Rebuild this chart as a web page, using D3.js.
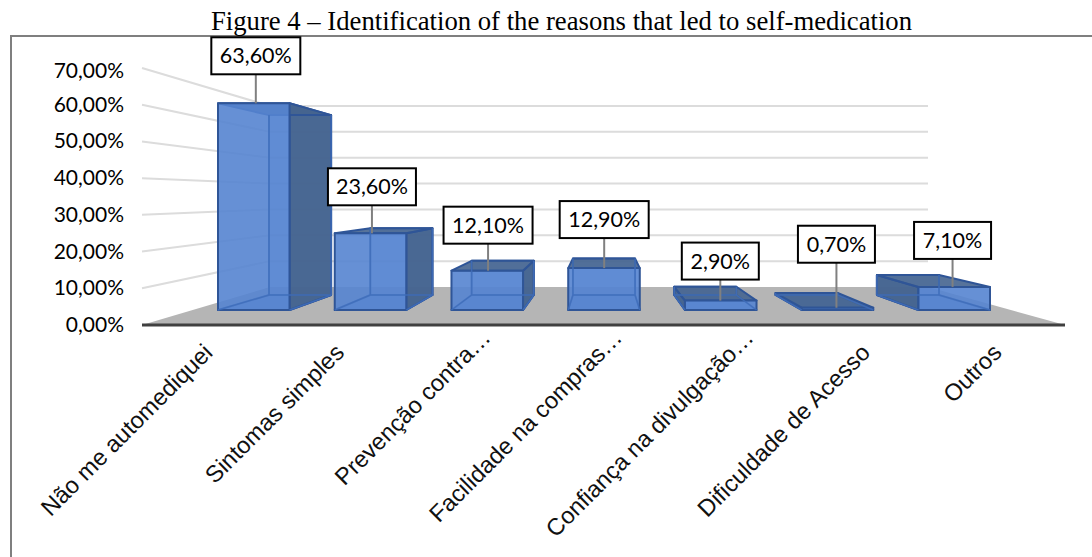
<!DOCTYPE html>
<html>
<head>
<meta charset="utf-8">
<style>
html,body{margin:0;padding:0;background:#fff;overflow:hidden}
svg{display:block}
</style>
<script src="https://cdn.jsdelivr.net/npm/d3@7"></script>
</head>
<body>
<svg id="chart" width="1092" height="557"></svg>
<script>
// Reasons for self-medication, in percent
const categories = ["Não me automediquei","Sintomas simples","Prevenção contra…","Facilidade na compras…","Confiança na divulgação…","Dificuldade de Acesso","Outros"];
const shares = [63.6,23.6,12.1,12.9,2.9,0.7,7.1];
const shareLabels = ["63,60%","23,60%","12,10%","12,90%","2,90%","0,70%","7,10%"];
const tickValues = [0,10,20,30,40,50,60,70];
const tickLabels = ["0,00%","10,00%","20,00%","30,00%","40,00%","50,00%","60,00%","70,00%"];

const svg = d3.select("#chart");

// The 3D box is faked with four value scales, one per depth plane
const yAxisPlane = d3.scaleLinear().domain([0,70]).range([325,68]);
const yBackWall  = d3.scaleLinear().domain([0,70]).range([287,106]);
const yBarFront  = d3.scaleLinear().domain([0,70]).range([310,82.5]);
const yBarBack   = d3.scaleLinear().domain([0,70]).range([295,97]);

// Bars are narrower and closer together on the back plane
const xFront = d3.scaleBand().domain(categories).range([218,990]).paddingInner(0.387).paddingOuter(0);
const xBack  = d3.scaleBand().domain(categories).range([269,939]).paddingInner(0.387).paddingOuter(0);
const xLabelEnd = d3.scalePoint().domain(categories).range([214,1003]);

const wallLeft = 142, wallBackLeft = 270, wallBackRight = 928, floorRight = 1065;

// Outer frame
svg.append("path").attr("d","M11,557V36H1092").attr("fill","none").attr("stroke","#7f7f7f").attr("stroke-width",2);

// Title
svg.append("text").attr("x",561.5).attr("y",30).attr("text-anchor","middle")
  .attr("font-family","'Liberation Serif'").attr("font-size",26.7).attr("fill","#000")
  .text("Figure 4 – Identification of the reasons that led to self-medication");

// Wall gridlines
const grid = svg.append("g").attr("fill","none").attr("stroke","#dcdcdc").attr("stroke-width",2);
tickValues.filter(v=>v>0).forEach(v=>{
  grid.append("path").attr("d",d3.line()([
    [wallLeft,yAxisPlane(v)],[wallBackLeft,yBackWall(v)],[wallBackRight,yBackWall(v)]
  ]));
});

// Floor
svg.append("path").attr("fill","#b5b5b5").attr("d",d3.line()([
  [wallLeft,yAxisPlane(0)],[wallBackLeft,yBackWall(0)],[wallBackRight,yBackWall(0)],[floorRight,yAxisPlane(0)]
])+"Z");
svg.append("line").attr("x1",wallLeft).attr("x2",floorRight).attr("y1",yAxisPlane(0)).attr("y2",yAxisPlane(0))
  .attr("stroke","#404040").attr("stroke-width",3);

// Tick labels
svg.append("g").selectAll("text").data(tickValues).join("text")
  .attr("x",124).attr("y",v=>yAxisPlane(v)+ (v===70?10:7))
  .attr("text-anchor","end").attr("font-family","Lato").attr("font-size",21).attr("fill","#000")
  .text((v,i)=>tickLabels[i]);

// Bars: solid outer faces, with the hidden edges redrawn on top so they show through
const faceBlue = "#5584d0", faceDark = "#45648f", edge = "#2f5597", innerEdge = "#3f6dba";
const bars = svg.append("g").selectAll("g").data(categories).join("g");
bars.each(function(c,i){
  const g = d3.select(this), v = shares[i];
  const fl = xFront(c), fr = fl + xFront.bandwidth();
  const bl = xBack(c),  br = bl + xBack.bandwidth();
  const ft = yBarFront(v), fb = yBarFront(0), bt = yBarBack(v), bb = yBarBack(0);
  const face = (pts,fill,op) => g.append("path").attr("d",d3.line()(pts)+"Z")
    .attr("fill",fill).attr("fill-opacity",op).attr("stroke",edge).attr("stroke-width",2).attr("stroke-linejoin","round");
  face([[bl,bt],[br,bt],[br,bb],[bl,bb]],faceBlue,0.35);
  face([[fl,fb],[fr,fb],[br,bb],[bl,bb]],faceBlue,0.6);
  if (br > fr) face([[fr,ft],[br,bt],[br,bb],[fr,fb]],faceDark,0.97);
  if (bl < fl) face([[fl,ft],[bl,bt],[bl,bb],[fl,fb]],faceDark,0.97);
  face([[fl,ft],[fr,ft],[br,bt],[bl,bt]],faceDark,0.9);
  face([[fl,ft],[fr,ft],[fr,fb],[fl,fb]],faceBlue,0.9);
  const hidden = d3.path();
  hidden.moveTo(bl,bt); hidden.lineTo(bl,bb); hidden.lineTo(br,bb); hidden.lineTo(br,bt);
  hidden.moveTo(bl,bb); hidden.lineTo(fl,fb);
  hidden.moveTo(br,bb); hidden.lineTo(fr,fb);
  g.append("path").attr("d",hidden.toString()).attr("fill","none").attr("stroke",innerEdge).attr("stroke-width",1.5).attr("stroke-opacity",0.85);
});

// Value callouts: leader line plus a boxed label above each bar.
// The anchor sits just behind the front edge of the bar's top face.
const calloutLift = [29,28,27,30,21,45,28];
const calloutWidth = [89,88,89,89,77,77,77];
const callouts = svg.append("g").selectAll("g").data(categories).join("g");
callouts.each(function(c,i){
  const g = d3.select(this);
  const x = d3.interpolateNumber(xFront(c), xBack(c))(0.04) + xFront.bandwidth()/2;
  const top = yBarFront(shares[i]);
  const boxBottom = top - calloutLift[i];
  g.append("line").attr("x1",x).attr("x2",x).attr("y1",top).attr("y2",boxBottom).attr("stroke","#808080").attr("stroke-width",2);
  g.append("rect").attr("x",x-calloutWidth[i]/2).attr("y",boxBottom-37).attr("width",calloutWidth[i]).attr("height",37)
    .attr("fill","#fff").attr("stroke","#000").attr("stroke-width",2);
  g.append("text").attr("x",x).attr("y",boxBottom-11).attr("text-anchor","middle")
    .attr("font-family","Lato").attr("font-size",21.5).attr("fill","#000").text(shareLabels[i]);
});

// Slanted category labels; truncated names let the ellipsis run past the regular end point
svg.append("g").selectAll("text").data(categories).join("text")
  .attr("text-anchor","end").attr("font-family","'Liberation Sans'").attr("font-size",23.6).attr("fill","#111")
  .attr("text-rendering","geometricPrecision")
  .attr("transform",c=>{
    const hang = c.endsWith("…") ? 15 : 0;
    return `translate(${xLabelEnd(c)+hang},${354-hang}) rotate(-45)`;
  })
  .text(c=>c);
</script>
</body>
</html>
